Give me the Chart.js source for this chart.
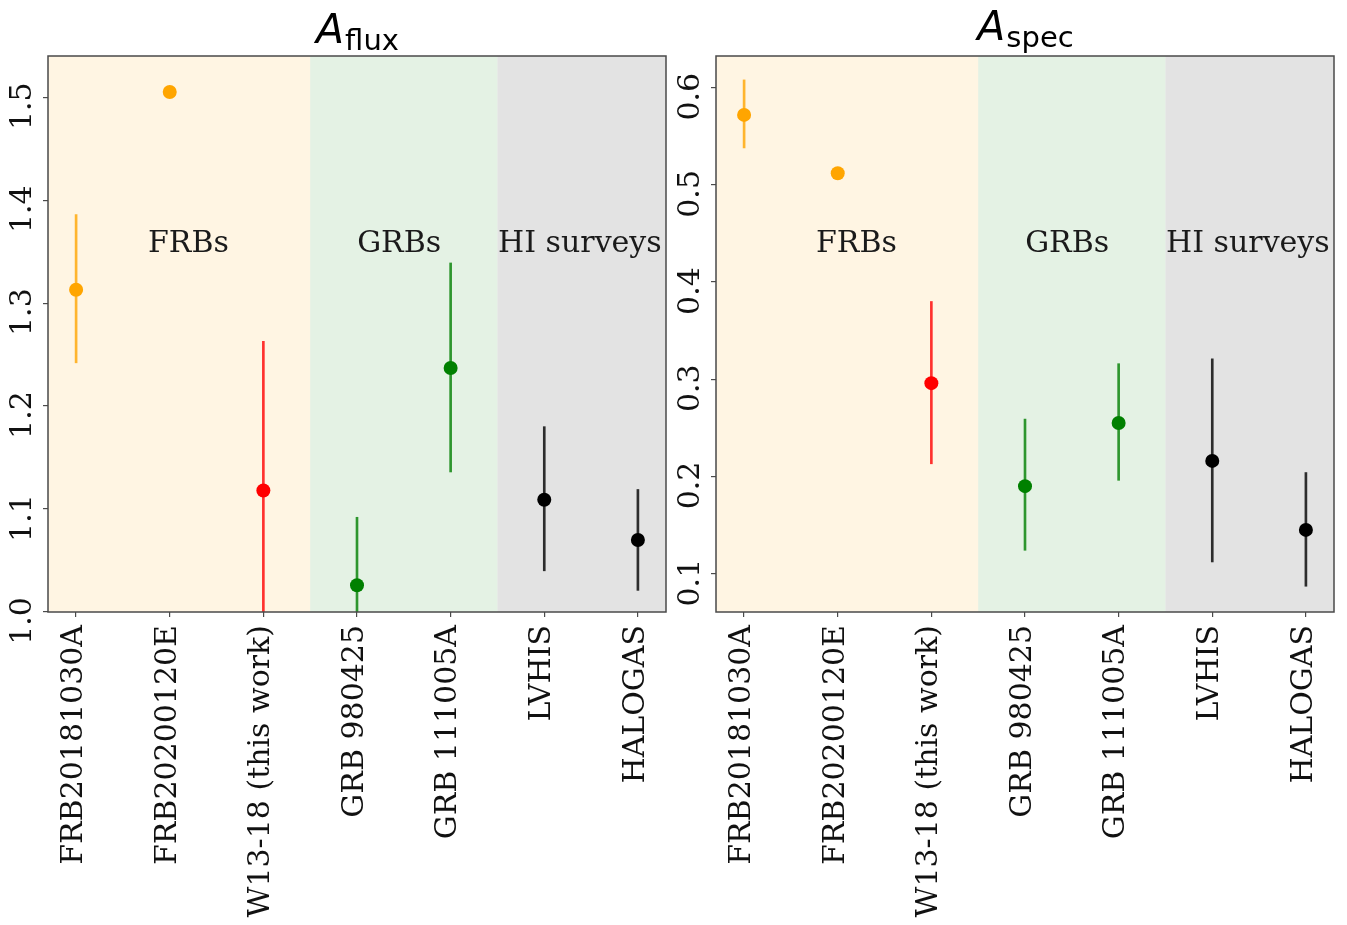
<!DOCTYPE html>
<html>
<head>
<meta charset="utf-8">
<title>A_flux / A_spec</title>
<script src="https://cdn.jsdelivr.net/npm/chart.js@4.4.0/dist/chart.umd.min.js"></script>
<style>
    html, body { margin: 0; padding: 0; background: #ffffff; }
    #wrap { position: relative; width: 1347px; height: 925px; overflow: hidden; }
    .panel { position: absolute; top: 0; width: 679px; height: 925px; }
</style>
</head>
<body>
<div id="wrap">
    <div class="panel" style="left:0px"><canvas id="flux-chart" width="679" height="925"></canvas></div>
    <div class="panel" style="left:668px"><canvas id="spec-chart" width="679" height="925"></canvas></div>
</div>
<script>
// categories (x axis)
var sources = ['FRB20181030A', 'FRB20200120E', 'W13-18 (this work)', 'GRB 980425', 'GRB 111005A', 'LVHIS', 'HALOGAS'];
var pointColors = ['#ffa500', '#ffa500', '#ff0000', '#008000', '#008000', '#000000', '#000000'];

// A_flux values with error bar ends (null = no error bar)
var fluxValues = [1.313, 1.505, 1.118, 1.026, 1.237, 1.109, 1.070];
var fluxLow = [1.242, null, 0.973, 0.960, 1.136, 1.040, 1.021];
var fluxHigh = [1.386, null, 1.263, 1.092, 1.339, 1.180, 1.119];
var fluxTicks = [1.0, 1.1, 1.2, 1.3, 1.4, 1.5];

// A_spec values with error bar ends
var specValues = [0.572, 0.512, 0.296, 0.190, 0.255, 0.216, 0.145];
var specLow = [0.538, null, 0.213, 0.124, 0.196, 0.112, 0.087];
var specHigh = [0.608, null, 0.380, 0.259, 0.316, 0.321, 0.204];
var specTicks = [0.1, 0.2, 0.3, 0.4, 0.5, 0.6];

// shaded groups
var groupNames = ['FRBs', 'GRBs', 'HI surveys'];
var groupStart = [-0.5, 2.5, 4.5];
var groupEnd = [2.5, 4.5, 6.5];
var groupLabelX = [1.2, 3.45, 5.38];
var groupColors = ['rgba(255,165,0,0.11)', 'rgba(0,128,0,0.105)', 'rgba(128,128,128,0.22)'];

var serif = "'DejaVu Serif', serif";

function withAlpha(hex, a) {
    var n = parseInt(hex.slice(1), 16);
    return 'rgba(' + (n >> 16) + ',' + ((n >> 8) & 255) + ',' + (n & 255) + ',' + a + ')';
}

// background spans, frame, group names and title
var panelDecor = {
    id: 'panelDecor',
    beforeDatasetsDraw: function(chart) {
        var ctx = chart.ctx, area = chart.chartArea, xs = chart.scales.x;
        ctx.save();
        ctx.beginPath();
        ctx.rect(area.left, area.top, area.width, area.height);
        ctx.clip();
        for (var i = 0; i < groupNames.length; i++) {
            var x0 = xs.getPixelForValue(groupStart[i]);
            var x1 = xs.getPixelForValue(groupEnd[i]);
            ctx.fillStyle = groupColors[i];
            ctx.fillRect(x0, area.top, x1 - x0, area.height);
        }
        // group names, placed at 0.647 of the axes height
        ctx.fillStyle = '#1a1a1a';
        ctx.font = '30px ' + serif;
        ctx.textAlign = 'center';
        ctx.textBaseline = 'alphabetic';
        for (var j = 0; j < groupNames.length; j++) {
            ctx.fillText(groupNames[j], xs.getPixelForValue(groupLabelX[j]), area.bottom - 0.647 * area.height);
        }
        ctx.restore();
    },
    afterDraw: function(chart, args, opts) {
        var ctx = chart.ctx, area = chart.chartArea;
        ctx.save();
        ctx.strokeStyle = '#4a4a4a';
        ctx.lineWidth = 1.5;
        ctx.strokeRect(area.left, area.top, area.width, area.height);

        // title: italic A with roman subscript
        var bigFont = 'italic 41px "DejaVu Sans"';
        var subFont = '29px "DejaVu Sans"';
        ctx.font = bigFont;
        var wA = ctx.measureText(opts.main).width;
        ctx.font = subFont;
        var wS = ctx.measureText(opts.sub).width;
        var x = (area.left + area.right) / 2 - (wA + wS) / 2;
        ctx.fillStyle = '#000000';
        ctx.textAlign = 'left';
        ctx.textBaseline = 'alphabetic';
        ctx.font = bigFont;
        ctx.fillText(opts.main, x, opts.baseline);
        ctx.font = subFont;
        ctx.fillText(opts.sub, x + wA + 1, opts.baseline + 7);
        ctx.restore();
    }
};

function make_panel(canvasId, values, low, high, ticks, yMin, yMax, sub, baseline) {
    var points = values.map(function(v, i) { return {x: i, y: v}; });
    var bars = [];
    var barColors = [];
    for (var i = 0; i < values.length; i++) {
        if (low[i] === null) continue;
        bars.push({x: i, y: [low[i], high[i]]});
        barColors.push(withAlpha(pointColors[i], 0.8));
    }

    var ctx = document.getElementById(canvasId).getContext('2d');
    return new Chart(ctx, {
        type: 'scatter',
        data: {
            datasets: [
                {
                    type: 'scatter',
                    data: points,
                    backgroundColor: pointColors,
                    borderWidth: 0,
                    pointRadius: 7,
                    pointHoverRadius: 7,
                    order: 0
                },
                {
                    type: 'bar',
                    data: bars,
                    backgroundColor: barColors,
                    borderWidth: 0,
                    barThickness: 2,
                    grouped: false,
                    order: 1
                }
            ]
        },
        options: {
            responsive: false,
            animation: false,
            events: [],
            layout: { padding: { top: 56, right: 13, left: 0, bottom: 0 } },
            plugins: {
                legend: { display: false },
                tooltip: { enabled: false },
                panelDecor: { main: 'A', sub: sub, baseline: baseline }
            },
            scales: {
                x: {
                    type: 'linear',
                    min: -0.3,
                    max: 6.3,
                    offset: false,
                    afterBuildTicks: function(scale) {
                        scale.ticks = sources.map(function(s, i) { return {value: i}; });
                    },
                    afterFit: function(scale) {
                        scale.height = 313;
                        scale.paddingLeft = 0;
                        scale.paddingRight = 0;
                    },
                    ticks: {
                        autoSkip: false,
                        minRotation: 90,
                        maxRotation: 90,
                        padding: 8,
                        labelOffset: -2,
                        color: '#111111',
                        font: { family: serif, size: 30 },
                        callback: function(v) { return sources[v]; }
                    },
                    grid: { drawOnChartArea: false, drawTicks: true, tickLength: 5, color: '#4a4a4a', lineWidth: 1.2, offset: false },
                    border: { display: false }
                },
                y: {
                    type: 'linear',
                    min: yMin,
                    max: yMax,
                    afterBuildTicks: function(scale) {
                        scale.ticks = ticks.map(function(v) { return {value: v}; });
                    },
                    afterFit: function(scale) {
                        scale.width = 48;
                        scale.paddingTop = 0;
                        scale.paddingBottom = 0;
                    },
                    ticks: {
                        minRotation: 90,
                        maxRotation: 90,
                        crossAlign: 'center',
                        padding: -4,
                        labelOffset: 9,
                        color: '#111111',
                        font: { family: serif, size: 30 },
                        callback: function(v) { return v.toFixed(1); }
                    },
                    grid: { drawOnChartArea: false, drawTicks: true, tickLength: 5, color: '#4a4a4a', lineWidth: 1.2 },
                    border: { display: false }
                }
            }
        },
        plugins: [panelDecor]
    });
}

var flux_chart = make_panel('flux-chart', fluxValues, fluxLow, fluxHigh, fluxTicks, 1.0, 1.54, 'flux', 43);
var spec_chart = make_panel('spec-chart', specValues, specLow, specHigh, specTicks, 0.0605, 0.6326, 'spec', 40);
</script>
</body>
</html>
